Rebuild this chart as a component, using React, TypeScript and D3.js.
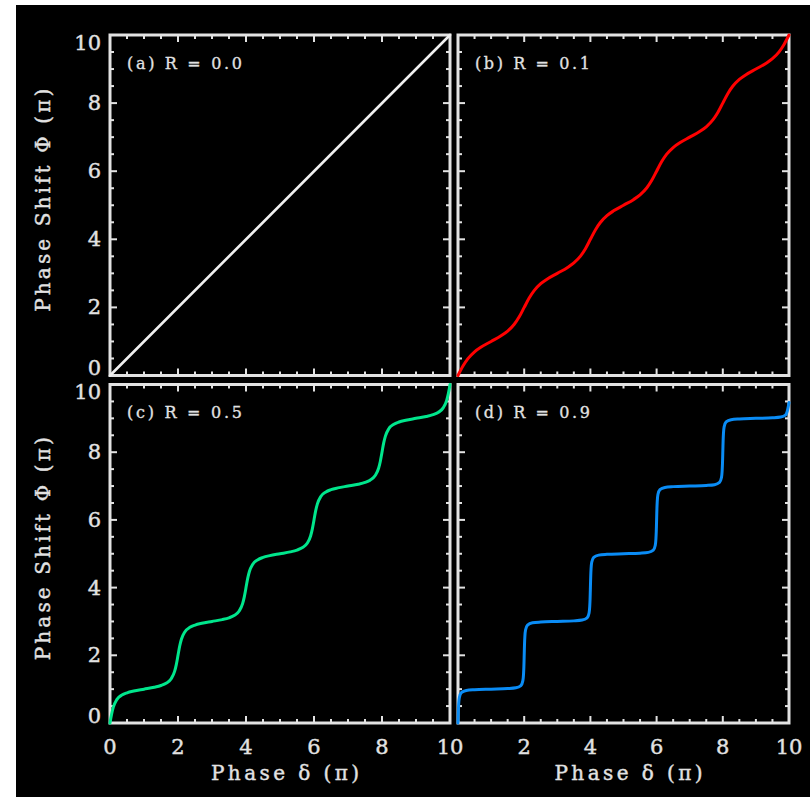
import React from "react";
import * as d3 from "d3";

const majorTicks = [0, 2, 4, 6, 8, 10];
const tickLabels = ["0", "2", "4", "6", "8", "10"];
const panelTags = ["(a) R = 0.0", "(b) R = 0.1", "(c) R = 0.5", "(d) R = 0.9"];
const xTitle = "Phase \u03B4 (\u03C0)";
const yTitle = "Phase Shift \u03A6 (\u03C0)";

// [phase delta (pi), phase shift Phi (pi)]
const curveR00: [number, number][] = [[0, 0], [10, 10]];

const curveR01: [number, number][] = [
  [0, 0], [0.15, 0.276], [0.3, 0.494], [0.5, 0.695], [0.7, 0.835], [1, 1], [1.3, 1.165], [1.5, 1.305], [1.7, 1.506], [1.85, 1.724],
  [2, 2], [2.15, 2.276], [2.3, 2.494], [2.5, 2.695], [2.7, 2.835], [3, 3], [3.3, 3.165], [3.5, 3.305], [3.7, 3.506], [3.85, 3.724],
  [4, 4], [4.15, 4.276], [4.3, 4.494], [4.5, 4.695], [4.7, 4.835], [5, 5], [5.3, 5.165], [5.5, 5.305], [5.7, 5.506], [5.85, 5.724],
  [6, 6], [6.15, 6.276], [6.3, 6.494], [6.5, 6.695], [6.7, 6.835], [7, 7], [7.3, 7.165], [7.5, 7.305], [7.7, 7.506], [7.85, 7.724],
  [8, 8], [8.15, 8.276], [8.3, 8.494], [8.5, 8.695], [8.7, 8.835], [9, 9], [9.3, 9.165], [9.5, 9.305], [9.7, 9.506], [9.85, 9.724],
  [10, 10],
];

const curveR05: [number, number][] = [
  [0, 0], [0.02, 0.115], [0.05, 0.274], [0.1, 0.475], [0.2, 0.691], [0.35, 0.826], [0.5, 0.892], [0.7, 0.945], [1, 1], [1.3, 1.055], [1.5, 1.108], [1.65, 1.174], [1.8, 1.309], [1.9, 1.525], [1.95, 1.726], [1.98, 1.885],
  [2, 2], [2.02, 2.115], [2.05, 2.274], [2.1, 2.475], [2.2, 2.691], [2.35, 2.826], [2.5, 2.892], [2.7, 2.945], [3, 3], [3.3, 3.055], [3.5, 3.108], [3.65, 3.174], [3.8, 3.309], [3.9, 3.525], [3.95, 3.726], [3.98, 3.885],
  [4, 4], [4.02, 4.115], [4.05, 4.274], [4.1, 4.475], [4.2, 4.691], [4.35, 4.826], [4.5, 4.892], [4.7, 4.945], [5, 5], [5.3, 5.055], [5.5, 5.108], [5.65, 5.174], [5.8, 5.309], [5.9, 5.525], [5.95, 5.726], [5.98, 5.885],
  [6, 6], [6.02, 6.115], [6.05, 6.274], [6.1, 6.475], [6.2, 6.691], [6.35, 6.826], [6.5, 6.892], [6.7, 6.945], [7, 7], [7.3, 7.055], [7.5, 7.108], [7.65, 7.174], [7.8, 7.309], [7.9, 7.525], [7.95, 7.726], [7.98, 7.885],
  [8, 8], [8.02, 8.115], [8.05, 8.274], [8.1, 8.475], [8.2, 8.691], [8.35, 8.826], [8.5, 8.892], [8.7, 8.945], [9, 9], [9.3, 9.055], [9.5, 9.108], [9.65, 9.174], [9.8, 9.309], [9.9, 9.525], [9.95, 9.726], [9.98, 9.885],
  [10, 10],
];

const curveR09: [number, number][] = [
  [0, 0], [0.005, 0.185], [0.01, 0.343], [0.02, 0.556], [0.04, 0.748], [0.1, 0.895], [0.25, 0.96], [0.5, 0.983], [1, 1], [1.5, 1.017], [1.75, 1.04], [1.9, 1.105], [1.96, 1.252], [1.98, 1.444], [1.99, 1.657], [1.995, 1.816],
  [2, 2], [2.005, 2.185], [2.01, 2.343], [2.02, 2.556], [2.04, 2.748], [2.1, 2.895], [2.25, 2.96], [2.5, 2.983], [3, 3], [3.5, 3.017], [3.75, 3.04], [3.9, 3.105], [3.96, 3.252], [3.98, 3.444], [3.99, 3.657], [3.995, 3.816],
  [4, 4], [4.005, 4.185], [4.01, 4.343], [4.02, 4.556], [4.04, 4.748], [4.1, 4.895], [4.25, 4.96], [4.5, 4.983], [5, 5], [5.5, 5.017], [5.75, 5.04], [5.9, 5.105], [5.96, 5.252], [5.98, 5.444], [5.99, 5.657], [5.995, 5.816],
  [6, 6], [6.005, 6.185], [6.01, 6.343], [6.02, 6.556], [6.04, 6.748], [6.1, 6.895], [6.25, 6.96], [6.5, 6.983], [7, 7], [7.5, 7.017], [7.75, 7.04], [7.9, 7.105], [7.96, 7.252], [7.98, 7.444], [7.99, 7.657], [7.995, 7.816],
  [8, 8], [8.005, 8.185], [8.01, 8.343], [8.02, 8.556], [8.04, 8.748], [8.1, 8.895], [8.25, 8.96], [8.5, 8.983], [9, 9], [9.5, 9.017], [9.75, 9.04], [9.9, 9.105], [9.96, 9.26],
  [10, 9.47],
];

const seriesColors = ["#f0f0f0", "#ff0000", "#00e68c", "#0a8cf5"];
const seriesWidths = [2.6, 3, 3, 3];
const allCurves = [curveR00, curveR01, curveR05, curveR09];

const W = 810;
const H = 797;
const cols = [
  { x0: 110, x1: 450 },
  { x0: 458, x1: 789 },
];
const rows = [
  { y0: 35, y1: 375.5 },
  { y0: 384.5, y1: 723 },
];

const FG = "#e2e2e2";
const FONT = "'DejaVu Serif', 'Liberation Serif', serif";

function Panel({ idx }: { idx: number }) {
  const colIdx = idx % 2;
  const rowIdx = Math.floor(idx / 2);
  const col = cols[colIdx];
  const row = rows[rowIdx];
  const xs = d3.scaleLinear().domain([0, 10]).range([col.x0, col.x1]);
  const ys = d3.scaleLinear().domain([0, 10]).range([row.y1, row.y0]);
  const line = d3
    .line<[number, number]>()
    .x((d) => xs(d[0]))
    .y((d) => ys(d[1]))
    .curve(d3.curveMonotoneX);
  const allTicks = d3.range(0, 10.001, 0.5);
  const isMajor = (v: number) => Math.abs(v / 2 - Math.round(v / 2)) < 1e-6;
  const showY = colIdx === 0;
  const showX = rowIdx === 1;
  const major = 7;
  const minor = 4;
  // the right panel's "0" sits under the left panel's "10"
  const xLabelIdx = majorTicks
    .map((_, i) => i)
    .filter((i) => !(colIdx === 1 && i === 0));
  return (
    <g>
      {allTicks.map((v, i) => {
        const L = isMajor(v) ? major : minor;
        const x = xs(v);
        const y = ys(v);
        return (
          <g key={"t" + i} stroke={FG} strokeWidth={2}>
            <line x1={x} x2={x} y1={row.y1} y2={row.y1 - L} />
            <line x1={x} x2={x} y1={row.y0} y2={row.y0 + L} />
            <line x1={col.x0} x2={col.x0 + L} y1={y} y2={y} />
            <line x1={col.x1} x2={col.x1 - L} y1={y} y2={y} />
          </g>
        );
      })}
      <rect
        x={col.x0}
        y={row.y0}
        width={col.x1 - col.x0}
        height={row.y1 - row.y0}
        fill="none"
        stroke={FG}
        strokeWidth={3}
      />
      <path
        d={line(allCurves[idx]) || ""}
        fill="none"
        stroke={seriesColors[idx]}
        strokeWidth={seriesWidths[idx]}
        strokeLinejoin="round"
        strokeLinecap="round"
      />
      <text
        x={col.x0 + 17}
        y={row.y0 + 28}
        fill={FG}
        stroke={FG}
        strokeWidth={0.3}
        fontFamily={FONT}
        fontSize={16}
        dominantBaseline="central"
        textLength={115}
        lengthAdjust="spacing"
      >
        {panelTags[idx]}
      </text>
      {showY &&
        majorTicks.map((v, i) => {
          const y = Math.min(Math.max(ys(v), row.y0 + 7.5), row.y1 - 7.5);
          return (
            <text
              key={"yl" + i}
              x={101}
              y={y}
              fill={FG}
              stroke={FG}
              strokeWidth={0.4}
              fontFamily={FONT}
              fontSize={21}
              textAnchor="end"
              dominantBaseline="central"
            >
              {tickLabels[i]}
            </text>
          );
        })}
      {showY && (
        <text
          transform={`translate(43, ${(row.y0 + row.y1) / 2 - 5}) rotate(-90)`}
          fill={FG}
          stroke={FG}
          strokeWidth={0.4}
          fontFamily={FONT}
          fontSize={20}
          textAnchor="middle"
          dominantBaseline="central"
          textLength={223}
          lengthAdjust="spacing"
        >
          {yTitle}
        </text>
      )}
      {showX &&
        xLabelIdx.map((i) => (
          <text
            key={"xl" + i}
            x={xs(majorTicks[i])}
            y={747}
            fill={FG}
            stroke={FG}
            strokeWidth={0.4}
            fontFamily={FONT}
            fontSize={21}
            textAnchor="middle"
            dominantBaseline="central"
          >
            {tickLabels[i]}
          </text>
        ))}
      {showX && (
        <text
          x={(col.x0 + col.x1) / 2 + 5}
          y={773}
          fill={FG}
          stroke={FG}
          strokeWidth={0.4}
          fontFamily={FONT}
          fontSize={20}
          textAnchor="middle"
          dominantBaseline="central"
          textLength={148}
          lengthAdjust="spacing"
        >
          {xTitle}
        </text>
      )}
    </g>
  );
}

export default function App() {
  return (
    <svg
      width={W}
      height={H}
      style={{ position: "absolute", left: 0, top: 0, display: "block" }}
    >
      <rect x={0} y={0} width={W} height={H} fill="#ffffff" />
      <rect x={16} y={5} width={W - 16} height={H - 5} fill="#000000" />
      {[0, 1, 2, 3].map((i) => (
        <Panel key={i} idx={i} />
      ))}
    </svg>
  );
}
